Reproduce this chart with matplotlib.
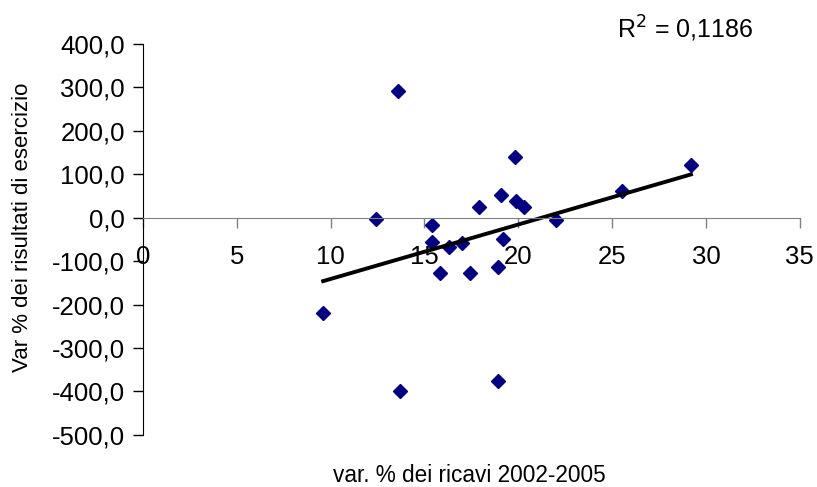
import numpy as np
import matplotlib.pyplot as plt
from matplotlib.ticker import FuncFormatter

# data
ricavi = [13.6, 12.4, 19.8, 19.1, 17.9, 19.9, 20.3, 15.4, 15.4, 16.3, 17.0,
          19.2, 22.0, 15.8, 17.4, 18.9, 9.6, 13.7, 18.9, 29.2, 25.5]
risultati = [291, -2, 140, 53, 25, 38, 25, -17, -57, -68, -58,
             -49, -5, -127, -127, -114, -220, -400, -377, 120, 62]
x_ticks = [0, 5, 10, 15, 20, 25, 30, 35]
y_ticks = [-500, -400, -300, -200, -100, 0, 100, 200, 300, 400]

plt.rcParams['font.family'] = ['Liberation Sans', 'DejaVu Sans']

fig = plt.figure(figsize=(8.17, 4.87), dpi=100)
ax = fig.add_axes([0.175, 0.107, 0.804, 0.803])

ax.plot(ricavi, risultati, linestyle='none', marker='D', markersize=7.5,
        color='#000080', markeredgecolor='#000080')

# linear trendline
x = np.array(ricavi)
y = np.array(risultati)
m, q = np.polyfit(x, y, 1)
xs = np.array([x.min(), x.max()])
ax.plot(xs, m * xs + q, color='black', linewidth=2.8)

ax.set_xlim(0, 35)
ax.set_ylim(-500, 400)
ax.set_xticks(x_ticks)
ax.set_yticks(y_ticks)
ax.yaxis.set_major_formatter(FuncFormatter(lambda v, p: f"{v:.1f}".replace('.', ',')))

ax.spines['top'].set_visible(False)
ax.spines['right'].set_visible(False)
ax.spines['bottom'].set_position(('data', 0))
ax.spines['bottom'].set_color('#808080')
ax.spines['left'].set_color('black')
ax.tick_params(axis='x', direction='out', length=7, width=1, colors='#808080',
               labelcolor='black', labelsize=18.5, pad=13)
ax.tick_params(axis='y', direction='out', length=7, width=1, labelsize=18.5, pad=6)

fig.text(0.575, 0.0226, 'var. % dei ricavi 2002-2005', ha='center', va='center', fontsize=16.3)
fig.text(0.028, 0.534, 'Var % dei risultati di esercizio', rotation=90,
         ha='center', va='center', fontsize=16)
fig.text(0.838, 0.94, 'R$^2$ = 0,1186', ha='center', va='center', fontsize=18)

fig.savefig('out.png', dpi=100)
